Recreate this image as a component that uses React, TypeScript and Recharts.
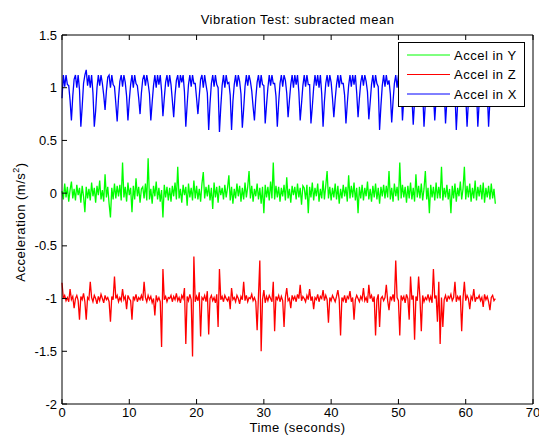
import { Line, LineChart, XAxis, YAxis } from 'recharts'

// samples every 0.2 s (20 samples = 4 s per row)
const SAMPLE_STEP = 0.2

const accelY = [
  0.02, -0.06, 0.09, -0.04, 0.06, -0.08, 0.03, 0.11, -0.05, 0.04, -0.07, 0.08, -0.02, 0.05, -0.09, 0.07, -0.03, -0.18, 0.06, -0.05,
  0.04, -0.07, 0.1, -0.03, 0.05, -0.09, 0.07, -0.02, 0.12, -0.06, 0.03, -0.08, 0.18, -0.04, 0.06, -0.1, -0.23, 0.05, -0.06, 0.09,
  -0.05, 0.07, -0.03, 0.08, -0.07, 0.29, -0.04, 0.06, -0.08, 0.1, -0.02, 0.05, -0.18, 0.07, -0.06, 0.14, -0.03, 0.06, -0.09, 0.04,
  0.06, -0.05, 0.09, -0.07, 0.33, -0.06, 0.04, -0.1, 0.07, -0.03, 0.11, -0.06, 0.05, -0.08, 0.03, -0.23, 0.08, -0.04, 0.06, -0.07,
  0.05, -0.08, 0.07, -0.03, 0.1, -0.06, 0.25, -0.05, 0.04, -0.09, 0.08, -0.02, 0.06, -0.12, 0.09, -0.04, 0.05, -0.07, 0.12, -0.05,
  0.07, -0.06, 0.04, -0.08, 0.09, 0.2, -0.05, 0.06, -0.03, 0.08, -0.07, 0.05, -0.15, 0.1, -0.04, 0.06, -0.09, 0.07, -0.02, 0.05,
  -0.06, 0.08, -0.04, 0.05, 0.17, -0.07, 0.06, -0.1, 0.04, -0.05, 0.09, -0.03, 0.07, -0.08, 0.05, -0.06, 0.1, -0.04, 0.06, 0.21,
  -0.05, 0.07, -0.08, 0.04, -0.03, 0.09, -0.06, 0.05, -0.1, 0.06, -0.19, 0.08, -0.04, 0.06, -0.07, 0.11, -0.05, 0.29, -0.06, 0.07,
  -0.04, 0.06, -0.08, 0.05, -0.03, 0.08, -0.07, 0.15, -0.05, 0.04, -0.09, 0.07, -0.02, 0.06, -0.06, 0.09, -0.04, 0.05, -0.11, 0.07,
  0.05, -0.06, 0.08, -0.19, 0.06, -0.04, 0.1, -0.07, 0.05, -0.03, 0.09, -0.08, 0.04, -0.05, 0.12, -0.06, 0.07, 0.21, -0.05, 0.06,
  -0.07, 0.05, -0.04, 0.09, -0.06, 0.07, -0.1, 0.04, -0.05, 0.08, -0.03, 0.06, -0.08, 0.17, -0.05, 0.07, -0.04, 0.1, -0.07, 0.05,
  -0.19, 0.06, -0.05, 0.08, -0.07, 0.05, -0.03, 0.11, -0.06, 0.04, -0.08, 0.07, -0.04, 0.09, -0.06, 0.05, -0.1, 0.06, -0.03, 0.08,
  -0.05, 0.07, -0.04, 0.21, -0.06, 0.05, -0.08, 0.09, -0.03, 0.06, -0.07, 0.29, -0.05, 0.08, -0.04, 0.06, -0.09, 0.07, -0.05, 0.1,
  -0.06, 0.05, -0.08, 0.18, -0.04, 0.07, -0.05, 0.09, -0.07, 0.04, 0.21, -0.06, 0.05, -0.19, 0.08, -0.04, 0.06, -0.07, 0.1, -0.05,
  0.06, -0.05, 0.25, -0.07, 0.05, -0.04, 0.08, -0.06, 0.04, -0.19, 0.07, -0.05, 0.09, -0.08, 0.05, -0.03, 0.11, -0.06, 0.04, 0.25,
  -0.06, 0.07, -0.04, 0.09, -0.08, 0.05, -0.05, 0.12, -0.07, 0.06, -0.03, 0.08, -0.06, 0.1, -0.09, 0.05, -0.04, 0.07, -0.06, 0.09,
  -0.05, 0.04, -0.1,
]

const accelZ = [
  -0.85, -1.0, -0.97, -1.02, -0.99, -1.03, -0.91, -1.01, -0.98, -1.09, -1.0, -0.97, -1.02, -1.2, -0.98, -1.01, -0.95, -1.03, -1.2, -0.99,
  -1.01, -0.84, -0.99, -1.03, -0.97, -1.0, -1.05, -0.98, -1.02, -0.96, -1.0, -1.04, -0.97, -1.01, -0.99, -1.03, -1.22, -0.98, -1.01, -0.79,
  -1.0, -0.97, -1.03, -0.99, -1.02, -0.91, -1.01, -0.98, -1.1, -0.97, -1.0, -1.02, -1.2, -0.98, -1.01, -0.96, -1.03, -0.99, -1.01, -0.97,
  -1.02, -0.84, -0.99, -1.03, -0.97, -1.01, -0.98, -1.04, -1.0, -1.16, -0.97, -1.02, -0.99, -1.03, -1.46, -0.72, -1.01, -0.98, -1.03, -0.99,
  -1.0, -0.97, -1.03, -0.98, -1.01, -0.95, -1.02, -0.99, -1.04, -0.97, -1.0, -0.9, -1.43, -0.98, -1.02, -0.96, -1.01, -1.55, -0.6, -1.03,
  -0.98, -1.02, -0.94, -1.36, -0.99, -1.01, -0.97, -1.03, -0.93, -1.34, -1.0, -0.97, -1.02, -0.99, -1.04, -0.96, -1.27, -0.72, -1.01, -0.98,
  -1.03, -0.97, -1.0, -1.02, -0.98, -1.1, -0.9, -1.01, -0.99, -1.03, -0.97, -1.0, -1.05, -0.98, -1.01, -0.84, -1.02, -0.97, -1.03, -0.99,
  -1.0, -0.96, -1.02, -0.99, -1.03, -1.3, -0.97, -0.64, -1.5, -1.01, -0.92, -1.04, -0.98, -1.02, -0.97, -1.0, -1.03, -0.84, -1.31, -0.98,
  -1.01, -0.97, -1.03, -0.98, -1.02, -1.27, -0.99, -0.9, -1.02, -1.0, -1.09, -0.97, -1.01, -0.98, -1.03, -0.96, -1.0, -0.87, -1.02, -0.98,
  -1.0, -1.03, -0.97, -1.01, -0.91, -1.02, -0.98, -1.1, -0.99, -1.01, -0.96, -1.03, -0.98, -1.0, -0.92, -1.02, -0.97, -1.01, -1.23, -0.99,
  -1.02, -0.97, -1.0, -1.03, -0.98, -0.92, -1.01, -1.35, -0.99, -1.02, -0.97, -1.04, -0.98, -1.0, -0.93, -1.03, -0.99, -1.2, -1.01, -0.97,
  -1.0, -1.03, -0.98, -1.01, -0.9, -1.02, -0.99, -1.04, -0.87, -1.0, -0.97, -1.03, -0.98, -1.35, -1.01, -0.96, -1.27, -1.0, -0.98, -1.02,
  -0.99, -0.87, -1.02, -1.11, -0.98, -1.01, -0.96, -1.03, -0.64, -0.99, -1.02, -1.35, -0.97, -1.01, -0.98, -1.04, -0.96, -1.0, -1.2, -0.79,
  -1.01, -0.97, -1.39, -0.98, -1.02, -0.79, -1.0, -1.31, -0.97, -1.03, -0.99, -1.01, -0.96, -1.02, -0.98, -1.04, -0.72, -1.0, -0.97, -1.22,
  -0.84, -1.43, -0.99, -1.27, -1.01, -0.97, -1.03, -0.98, -1.0, -0.96, -1.02, -0.99, -0.84, -1.03, -0.98, -1.01, -0.97, -1.31, -1.0, -0.84,
  -1.02, -0.97, -1.0, -1.1, -0.98, -1.01, -0.91, -1.03, -0.99, -1.0, -0.97, -1.02, -0.99, -1.08, -0.96, -1.01, -0.98, -1.03, -1.11, -0.99,
  -0.97, -1.02, -1.0,
]

const accelX = [
  0.9, 1.12, 1.01, 1.12, 1.03, 1.02, 0.88, 0.69, 0.92, 1.08, 1.12, 1.0, 1.12, 0.98, 0.63, 0.82, 1.04, 1.12, 1.17, 1.02,
  1.12, 1.0, 1.12, 0.95, 0.63, 0.78, 1.0, 1.12, 1.02, 1.12, 1.04, 0.93, 0.79, 0.97, 1.1, 1.12, 1.0, 1.12, 1.03, 1.01,
  0.85, 0.68, 0.9, 1.06, 1.12, 1.01, 1.12, 1.05, 0.92, 0.69, 0.88, 1.03, 1.12, 1.0, 1.12, 1.04, 1.02, 0.9, 0.75, 0.95,
  1.08, 1.12, 1.02, 1.12, 1.04, 0.94, 0.69, 0.86, 1.02, 1.12, 1.0, 1.12, 1.03, 1.12, 0.97, 0.73, 0.9, 1.05, 1.12, 1.01,
  1.12, 1.03, 0.88, 0.72, 0.93, 1.07, 1.12, 1.0, 1.12, 1.05, 1.12, 0.96, 0.63, 0.84, 1.03, 1.12, 1.01, 1.12, 1.04, 1.04,
  0.9, 0.75, 0.92, 1.08, 1.12, 1.0, 1.12, 1.03, 0.95, 0.6, 0.85, 1.04, 1.12, 1.01, 1.12, 1.03, 1.0, 0.58, 0.82, 1.02,
  1.12, 1.0, 1.12, 1.04, 1.05, 0.93, 0.6, 0.87, 1.03, 1.12, 1.01, 1.12, 1.06, 0.94, 0.62, 0.8, 1.01, 1.12, 1.02, 1.12,
  1.06, 0.97, 0.82, 0.69, 0.9, 1.05, 1.12, 1.0, 1.12, 1.03, 1.02, 0.66, 0.84, 1.0, 1.12, 1.02, 1.12, 1.04, 1.04, 0.92,
  0.63, 0.86, 1.04, 1.12, 1.01, 1.12, 1.07, 0.95, 0.72, 0.88, 1.03, 1.12, 1.0, 1.12, 1.03, 1.12, 0.96, 0.69, 0.85, 1.02,
  1.12, 1.01, 1.12, 1.03, 1.03, 0.66, 0.82, 1.0, 1.12, 1.02, 1.12, 1.0, 1.12, 0.94, 0.63, 0.87, 1.04, 1.12, 1.01, 1.12,
  1.05, 0.9, 0.72, 0.89, 1.03, 1.12, 1.0, 1.12, 1.04, 1.04, 0.93, 0.66, 0.85, 1.02, 1.12, 1.01, 1.12, 1.03, 1.12, 0.95,
  0.72, 0.9, 1.05, 1.12, 1.02, 1.12, 1.06, 0.96, 0.7, 0.86, 1.03, 1.12, 1.0, 1.12, 1.04, 1.01, 0.6, 0.83, 1.02, 1.12,
  1.01, 1.12, 1.03, 1.07, 0.94, 0.67, 0.87, 1.04, 1.12, 1.0, 1.12, 1.04, 1.03, 0.69, 0.9, 1.06, 1.12, 1.02, 1.12, 1.05,
  0.92, 0.65, 0.88, 1.05, 1.12, 1.02, 1.12, 1.07, 0.97, 0.63, 0.86, 1.04, 1.12, 1.01, 1.12, 1.06, 0.95, 0.69, 0.9, 1.07,
  1.12, 1.03, 1.12, 1.08, 0.99, 0.66, 0.88, 1.05, 1.12, 1.02, 1.12, 1.07, 0.96, 0.6, 0.85, 1.03, 1.12, 1.04, 1.12, 1.06,
  0.93, 0.63, 0.87, 1.04, 1.12, 1.01, 1.12, 1.08, 0.98, 0.63, 0.86, 1.05, 1.12, 1.03, 1.12, 1.07, 0.97, 0.63, 0.88, 1.06,
  1.12, 1.02, 1.12,
]

const timeTicks = [0, 10, 20, 30, 40, 50, 60, 70]
const accelTicks = [-2, -1.5, -1, -0.5, 0, 0.5, 1, 1.5]

const series = [
  { key: 'y', name: 'Accel in Y', color: '#00ff00' },
  { key: 'z', name: 'Accel in Z', color: '#ff0000' },
  { key: 'x', name: 'Accel in X', color: '#0000ff' },
]

const data = accelX.map((_, i) => ({
  t: Math.round(i * SAMPLE_STEP * 10) / 10,
  x: accelX[i],
  y: accelY[i],
  z: accelZ[i],
}))

const FONT = '"Liberation Sans", Arial, Helvetica, sans-serif'
const TEXT = { fontFamily: FONT, fontSize: 13, letterSpacing: 0.5, fill: '#000' }
const TICK_LEN = 5

function BottomTick({ x, y, payload }: any) {
  return (
    <g>
      <line x1={x} x2={x} y1={y} y2={y - TICK_LEN} stroke="#000" />
      <text x={x} y={y + 12.5} textAnchor="middle" {...TEXT} letterSpacing={0}>
        {payload.value}
      </text>
    </g>
  )
}

function TopTick({ x, y }: any) {
  return <line x1={x} x2={x} y1={y} y2={y + TICK_LEN} stroke="#000" />
}

function LeftTick({ x, y, payload }: any) {
  return (
    <g>
      <line x1={x} x2={x + TICK_LEN} y1={y} y2={y} stroke="#000" />
      <text x={x - 5} y={y + 4.5} textAnchor="end" {...TEXT} letterSpacing={0}>
        {payload.value}
      </text>
    </g>
  )
}

function RightTick({ x, y }: any) {
  return <line x1={x} x2={x - TICK_LEN} y1={y} y2={y} stroke="#000" />
}

function LegendBox() {
  return (
    <div
      style={{
        position: 'absolute',
        left: 398,
        top: 42,
        width: 127,
        height: 65,
        boxSizing: 'border-box',
        border: '1px solid #000',
        background: '#fff',
      }}
    >
      <svg width={125} height={63}>
        {series.map((s, i) => {
          const cy = 12 + i * 19.5
          return (
            <g key={s.key}>
              <line x1={8} x2={51} y1={cy} y2={cy} stroke={s.color} />
              <text x={55} y={cy + 4.5} {...TEXT}>
                {s.name}
              </text>
            </g>
          )
        })}
      </svg>
    </div>
  )
}

export default function App() {
  return (
    <div style={{ position: 'absolute', left: 0, top: 0, width: 539, height: 441, background: '#fff', fontFamily: FONT }}>
      <LineChart width={539} height={441} data={data} margin={{ top: 30, right: 0, bottom: 0, left: 0 }}>
        <XAxis
          dataKey="t"
          type="number"
          domain={[0, 70]}
          ticks={timeTicks}
          interval={0}
          height={37}
          tickSize={0}
          tickMargin={0}
          tickLine={false}
          tick={<BottomTick />}
          axisLine={{ stroke: '#000' }}
        />
        <XAxis
          xAxisId="top"
          orientation="top"
          dataKey="t"
          type="number"
          domain={[0, 70]}
          ticks={timeTicks}
          interval={0}
          height={5}
          tickSize={0}
          tickMargin={0}
          tickLine={false}
          tick={<TopTick />}
          axisLine={{ stroke: '#000' }}
        />
        <YAxis
          type="number"
          domain={[-2, 1.5]}
          ticks={accelTicks}
          interval={0}
          width={62}
          tickSize={0}
          tickMargin={0}
          tickLine={false}
          tick={<LeftTick />}
          axisLine={{ stroke: '#000' }}
        />
        <YAxis
          yAxisId="right"
          orientation="right"
          type="number"
          domain={[-2, 1.5]}
          ticks={accelTicks}
          interval={0}
          width={6}
          tickSize={0}
          tickMargin={0}
          tickLine={false}
          tick={<RightTick />}
          axisLine={{ stroke: '#000' }}
        />
        {series.map((s) => (
          <Line
            key={s.key}
            dataKey={s.key}
            name={s.name}
            type="linear"
            stroke={s.color}
            strokeWidth={1.3}
            dot={false}
            activeDot={false}
            isAnimationActive={false}
          />
        ))}
      </LineChart>

      <div
        style={{
          position: 'absolute',
          left: 62,
          width: 471,
          top: 12,
          textAlign: 'center',
          fontSize: 13,
          letterSpacing: 0.5,
          lineHeight: '15px',
          color: '#000',
        }}
      >
        Vibration Test: subracted mean
      </div>

      <div
        style={{
          position: 'absolute',
          left: 62,
          width: 471,
          top: 420,
          textAlign: 'center',
          fontSize: 13,
          letterSpacing: 0.5,
          lineHeight: '15px',
          color: '#000',
        }}
      >
        Time (seconds)
      </div>

      <div
        style={{
          position: 'absolute',
          left: 20,
          top: 222,
          transform: 'translate(-50%, -50%) rotate(-90deg)',
          whiteSpace: 'nowrap',
          fontSize: 13,
          letterSpacing: 0.5,
          lineHeight: '15px',
          color: '#000',
        }}
      >
        Acceleration (m/s<sup style={{ fontSize: 9, lineHeight: 0 }}>2</sup>)
      </div>

      <LegendBox />
    </div>
  )
}
